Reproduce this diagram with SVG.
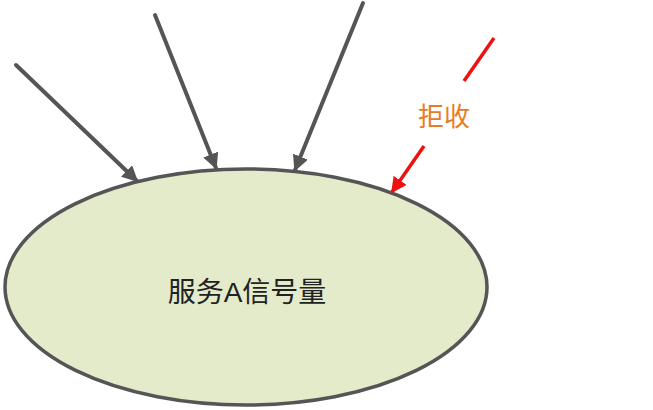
<svg xmlns="http://www.w3.org/2000/svg" width="653" height="410" viewBox="0 0 653 410">
<style>
.conn{stroke:#555555;stroke-width:4;fill:none;stroke-linecap:round}
.rej{stroke:#EE1111;stroke-width:3.5;fill:none}
.lbl{font-family:"Liberation Sans","Noto Sans CJK SC",sans-serif;text-anchor:middle}
</style>
<defs>
<marker id="ah" viewBox="0 0 10 10" refX="9" refY="5" markerWidth="4" markerHeight="4" orient="auto" markerUnits="strokeWidth">
<path d="M0,0 L10,5 L0,10 z" fill="#555555"/>
</marker>
<marker id="ahr" viewBox="0 0 10 10" refX="9" refY="5" markerWidth="4.5" markerHeight="4.5" orient="auto" markerUnits="strokeWidth">
<path d="M0,0 L10,5 L0,10 z" fill="#EE1111"/>
</marker>
</defs>
<g id="semaphore">
<ellipse cx="246" cy="287" rx="241" ry="118" fill="#E3EBCB" stroke="#555555" stroke-width="3.5"/>
<text class="lbl" x="247" y="302" font-size="28" fill="#222222">服务A信号量</text>
</g>
<g id="connectors">
<line class="conn" x1="16" y1="65" x2="137" y2="181" marker-end="url(#ah)"/>
<line class="conn" x1="155" y1="15" x2="216" y2="168" marker-end="url(#ah)"/>
<line class="conn" x1="363" y1="3" x2="295" y2="170" marker-end="url(#ah)"/>
<line class="rej" x1="494" y1="38" x2="464" y2="81"/>
<line class="rej" x1="424" y1="146" x2="392" y2="192" marker-end="url(#ahr)"/>
</g>
<g id="reject-label">
<text class="lbl" x="444" y="126" font-size="26" fill="#E87C22">拒收</text>
</g>
</svg>
